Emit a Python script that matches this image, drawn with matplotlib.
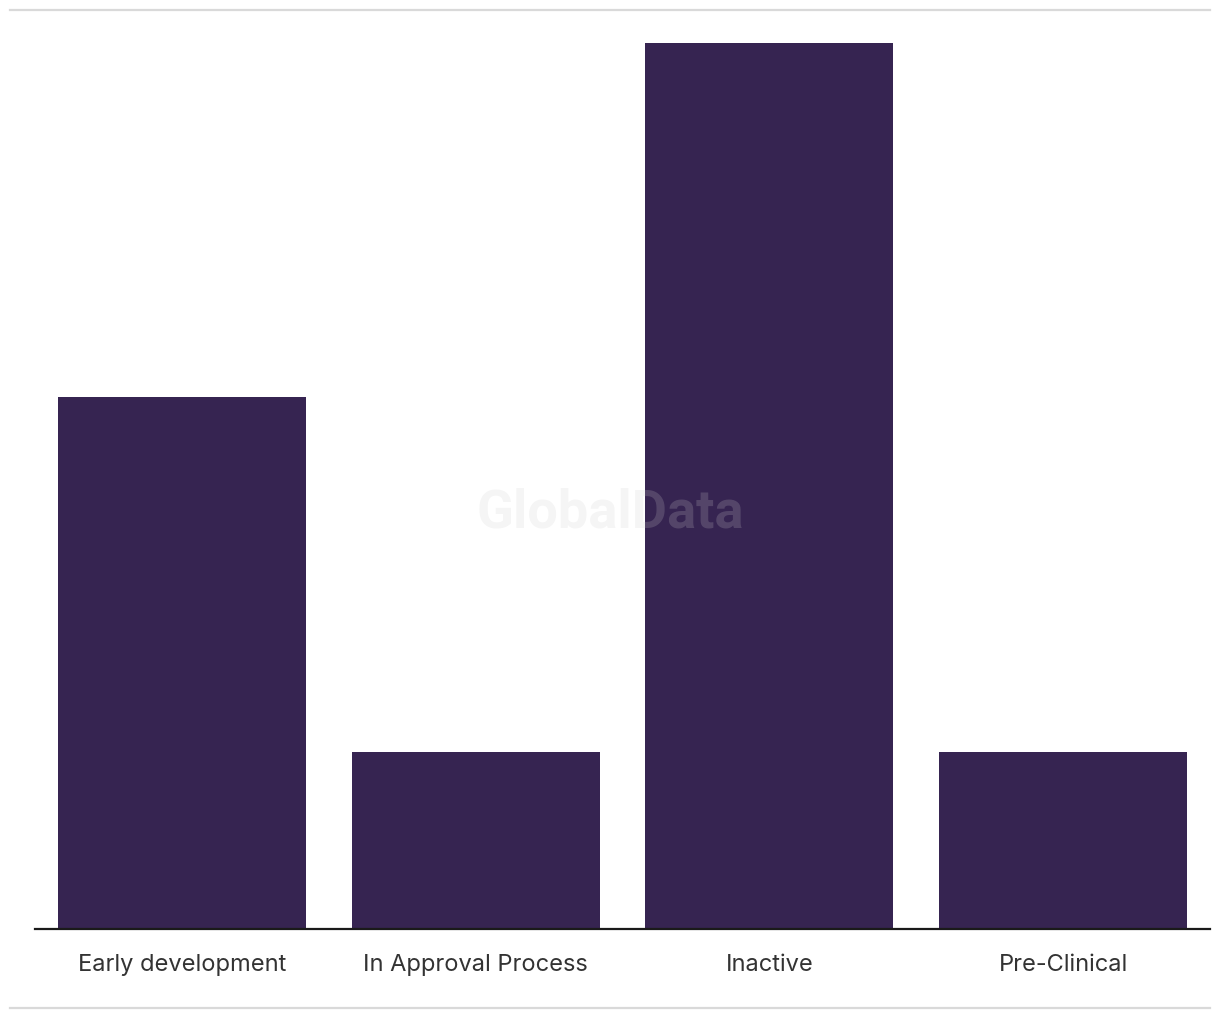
import matplotlib.pyplot as plt
from matplotlib.lines import Line2D

# data
stages = ["Early development", "In Approval Process", "Inactive", "Pre-Clinical"]
counts = [3, 1, 5, 1]

W, H = 1220, 1020
fig = plt.figure(figsize=(W / 100, H / 100), dpi=100)
ax = fig.add_axes([35 / W, 1 - 930 / H, (1210 - 35) / W, (930 - 44) / H])

x = range(len(stages))
ax.bar(x, counts, width=0.845, color="#362451", zorder=2)
ax.set_xlim(-0.5, len(stages) - 0.5)
ax.set_ylim(0, max(counts))

ax.set_xticks(list(x))
ax.set_xticklabels(stages, fontsize=17, color="#333333", family=["Inter", "DejaVu Sans"])
ax.tick_params(axis="x", length=0, pad=17)
ax.set_yticks([])
for s in ["top", "right", "left"]:
    ax.spines[s].set_visible(False)
ax.spines["bottom"].set_color("#1a1a1a")
ax.spines["bottom"].set_linewidth(1.6)
ax.spines["bottom"].set_zorder(3)

# grey frame lines top and bottom
fig.add_artist(Line2D([10 / W, 1210 / W], [1 - 11 / H, 1 - 11 / H], color="#d9d9d9", lw=1.6))
fig.add_artist(Line2D([10 / W, 1210 / W], [1 - 1009 / H, 1 - 1009 / H], color="#d9d9d9", lw=1.6))

# watermark
fig.text(610 / W, 1 - 513 / H, "GlobalData", ha="center", va="center", fontsize=39,
         fontweight="bold", color="#cdcdcd", alpha=0.2, family=["Roboto", "DejaVu Sans"], zorder=10)

fig.savefig("out.png", dpi=100, facecolor="white")
